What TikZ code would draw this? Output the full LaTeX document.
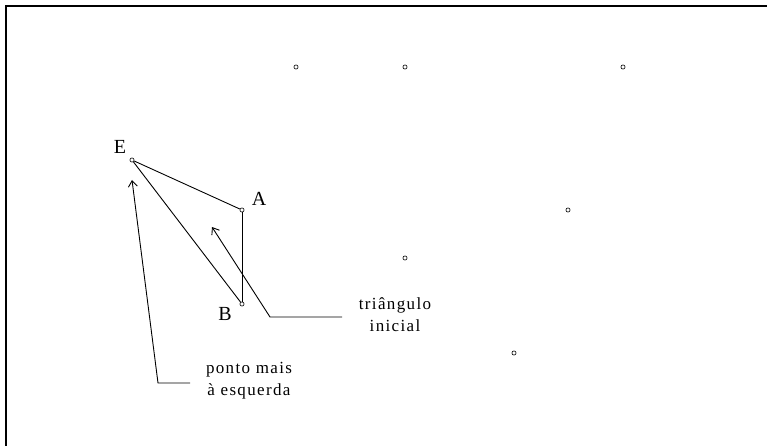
\documentclass[tikz,border=0pt]{standalone}
\usepackage{fontspec}
\setmainfont{Liberation Serif}
\usetikzlibrary{arrows.meta,positioning}
\tikzset{
  pt/.style={circle, draw, line width=0.6pt, inner sep=0pt, minimum size=4.2pt},
  edgeln/.style={line width=0.9pt},
  leader/.style={-{Straight Barb[length=6pt,width=9pt]}, line width=0.9pt},
  frameln/.style={line width=2.4pt},
  lbl/.style={font=\fontsize{20}{20}\selectfont, inner sep=0pt, anchor=base},
  note/.style={font=\fontsize{17}{22}\selectfont\addfontfeature{LetterSpace=8},
    align=center, inner sep=0pt, anchor=base},
}

\begin{document}
\begin{tikzpicture}[x=1pt, y=-1pt]
    \useasboundingbox (0,0) rectangle (767,446);
    \draw[frameln] (767,6.2) -- (6.2,6.2) -- (6.2,446);
    % point set
    \node[pt] (p1) at (296,67) {};
    \node[pt] (p2) at (405,67) {};
    \node[pt] (p3) at (623,67) {};
    \node[pt] (p4) at (568,210) {};
    \node[pt] (p5) at (405,258) {};
    \node[pt] (p6) at (514,353) {};
    \node[pt] (a) at (242,210) {};
    \node[pt] (b) at (242,304) {};
    \node[pt] (e) at (132,160) {};
    \node[lbl] (la) at (259,205) {A};
    \node[lbl] (lb) at (225,320) {B};
    \node[lbl] (le) at (120,154) {E};
    \draw[edgeln] (e) -- (a);
    \draw[edgeln] (e) -- (b);
    \draw[edgeln] (a) -- (b);
    % callouts
    \node[note] (tri) at (395,331) {triângulo\\inicial};
    \node[note] (esq) at (249,395) {ponto mais\\à esquerda};
    \coordinate (tipT) at (212,227);
    \coordinate (kneeT) at (270,317);
    \coordinate (endT) at (342,317);
    \coordinate (tipE) at (132,180);
    \coordinate (kneeE) at (158,383);
    \coordinate (endE) at (190,383);
    \draw[leader] (endT) -- (kneeT) -- (tipT);
    \draw[leader] (endE) -- (kneeE) -- (tipE);
  \end{tikzpicture}
\end{document}
